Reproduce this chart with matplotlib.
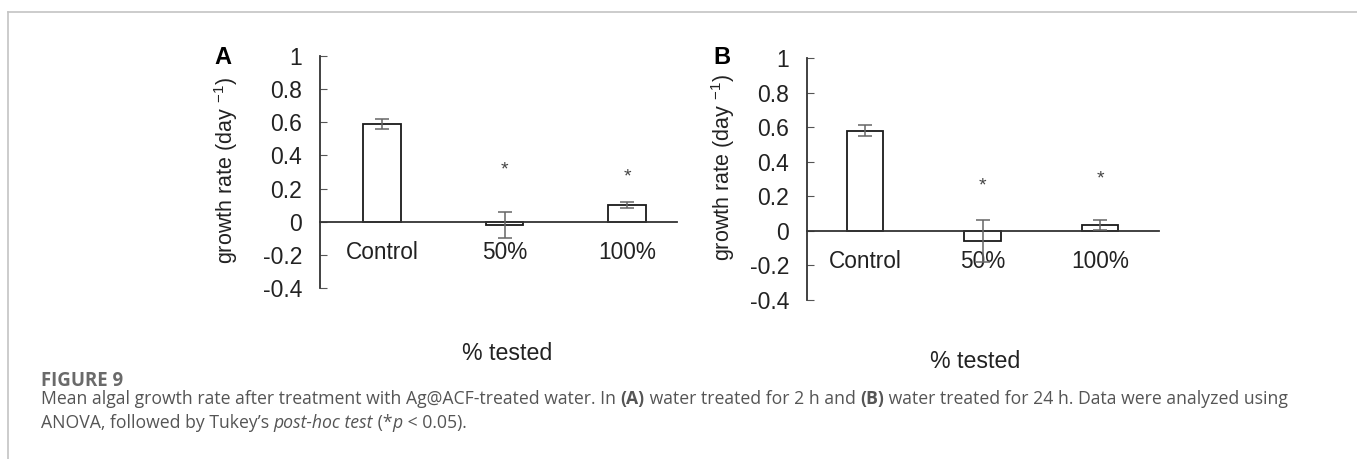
import matplotlib
matplotlib.use("Agg")
import matplotlib.pyplot as plt
from matplotlib.lines import Line2D

# data
categories = ["Control", "50%", "100%"]
rate_a = [0.59, -0.02, 0.10]
err_a = [0.03, 0.08, 0.02]
star_a = [None, 0.31, 0.27]
rate_b = [0.58, -0.06, 0.035]
err_b = [0.03, 0.12, 0.03]
star_b = [None, 0.26, 0.30]
yticks = [-0.4, -0.2, 0, 0.2, 0.4, 0.6, 0.8, 1]
ytick_labels = ["-0.4", "-0.2", "0", "0.2", "0.4", "0.6", "0.8", "1"]

W, H = 1357, 459
fig = plt.figure(figsize=(W / 100, H / 100), dpi=100)
fig.patch.set_facecolor("white")
plt.rcParams["font.family"] = ["Liberation Sans", "DejaVu Sans"]

# thin frame of the page (top and left)
fig.add_artist(Line2D([8 / W, 1], [1 - 12 / H] * 2, color="#c4c4c4", lw=1.2))
fig.add_artist(Line2D([8 / W] * 2, [0, 1 - 12 / H], color="#c4c4c4", lw=1.2))


def px(x0, y0, x1, y1):
    return [x0 / W, 1 - y1 / H, (x1 - x0) / W, (y1 - y0) / H]


def panel(rect, xlim, rates, errs, stars, letter, letter_xy, ylab_xy, xlab_xy):
    ax = fig.add_axes(rect)
    x = list(range(len(categories)))
    ax.bar(x, rates, width=0.31, color="white", edgecolor="#1a1a1a", lw=1.3, zorder=2)
    ax.errorbar(x, rates, yerr=errs, fmt="none", ecolor="#666666", elinewidth=1.1,
                capsize=5, capthick=1.1, zorder=3)
    for xi, s in zip(x, stars):
        if s is not None:
            ax.text(xi, s, "*", ha="center", va="center", fontsize=14, color="#444444")
    ax.set_xlim(*xlim)
    ax.set_ylim(-0.4, 1)
    ax.set_yticks(yticks)
    ax.set_yticklabels(ytick_labels)
    ax.set_xticks(x)
    ax.set_xticklabels(categories)
    for s in ["top", "right"]:
        ax.spines[s].set_visible(False)
    ax.spines["bottom"].set_position(("data", 0))
    ax.spines["bottom"].set_color("#333333")
    ax.spines["left"].set_color("#333333")
    ax.spines["bottom"].set_linewidth(1.3)
    ax.spines["left"].set_linewidth(1.3)
    ax.tick_params(axis="y", direction="in", length=5, color="#555555",
                   labelsize=16.5, labelcolor="#222222", pad=13)
    ax.tick_params(axis="x", length=0, labelsize=16.3, labelcolor="#222222", pad=14)
    fig.text(letter_xy[0] / W, 1 - letter_xy[1] / H, letter, fontsize=17,
             fontweight="bold", ha="center", va="center", color="black")
    fig.text(ylab_xy[0] / W, 1 - ylab_xy[1] / H,
             r"growth rate (day $^{\mathregular{-1}}$)",
             rotation=90, fontsize=15.5, ha="center", va="center", color="#222222")
    fig.text(xlab_xy[0] / W, 1 - xlab_xy[1] / H, "% tested", fontsize=16.7,
             ha="center", va="center", color="#222222")
    return ax


panel(px(320, 56, 677, 288), (-0.506, 2.408), rate_a, err_a, star_a,
      "A", (223, 58), (226, 170), (507, 354))
panel(px(807, 58, 1159, 300), (-0.494, 2.502), rate_b, err_b, star_b,
      "B", (722, 57), (723, 167), (975, 362))

# caption with mixed styles
cap_font = "Open Sans"
cap_size = 12.7
cap_color = "#555555"
fig.text(41 / W, 1 - 381 / H, "FIGURE 9", fontsize=13.4, fontweight="bold",
         family=cap_font, color="#6a6a6a", ha="left", va="center")

line1 = [("Mean algal growth rate after treatment with Ag@ACF-treated water. In ", "normal", "normal"),
         ("(A)", "bold", "normal"),
         (" water treated for 2 h and ", "normal", "normal"),
         ("(B)", "bold", "normal"),
         (" water treated for 24 h. Data were analyzed using", "normal", "normal")]
line2 = [("ANOVA, followed by Tukey\u2019s ", "normal", "normal"),
         ("post-hoc test", "normal", "italic"),
         (" (*", "normal", "normal"),
         ("p", "normal", "italic"),
         (" < 0.05).", "normal", "normal")]

renderer = fig.canvas.get_renderer()
for segs, yb in [(line1, 404), (line2, 428)]:
    xpos = 41
    for txt, wt, st in segs:
        t = fig.text(xpos / W, 1 - yb / H, txt, fontsize=cap_size, family=cap_font,
                     fontweight=wt, style=st, color=cap_color, ha="left", va="baseline")
        bb = t.get_window_extent(renderer)
        xpos = bb.x1

fig.savefig("out.png", dpi=100, facecolor="white")
